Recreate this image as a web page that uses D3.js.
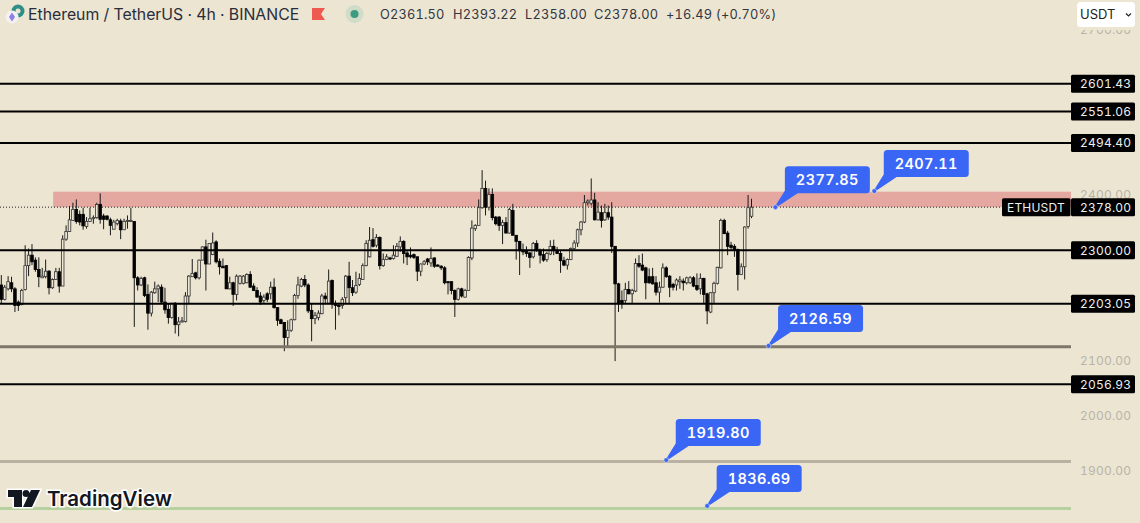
<!DOCTYPE html>
<html>
<head>
<meta charset="utf-8">
<script src="https://cdn.jsdelivr.net/npm/d3@7"></script>
<style>
  body { margin: 0; background: #ece5d2; overflow: hidden; }
  text { font-family: Inter, "Noto Sans", sans-serif; font-variant-numeric: tabular-nums; }
</style>
</head>
<body>
<script>
// ETHUSDT 4h candles
const opens = [
  2237,2211,2230,2241,2230,2206,2202,2229,2272,2291,
  2282,2265,2250,2252,2262,2232,2247,2261,2235,2320,
  2334,2354,2374,2365,2365,2343,2352,2357,2359,2383,
  2362,2362,2355,2338,2348,2353,2337,2352,2352,2352,
  2250,2237,2250,2220,2186,2223,2230,2233,2206,2193,
  2178,2204,2165,2170,2171,2217,2252,2259,2250,2282,
  2306,2275,2292,2315,2280,2271,2272,2230,2241,2220,
  2240,2240,2241,2256,2235,2227,2217,2209,2221,2221,
  2233,2196,2174,2169,2142,2155,2174,2218,2235,2247,
  2237,2191,2176,2178,2185,2217,2204,2245,2204,2200,
  2200,2214,2253,2232,2224,2238,2247,2272,2288,2319,
  2309,2323,2272,2283,2286,2285,2289,2306,2316,2295,
  2291,2292,2288,2262,2275,2284,2277,2286,2273,2271,
  2268,2243,2243,2227,2211,2230,2215,2227,2286,2339,
  2345,2377,2412,2378,2401,2360,2360,2345,2350,2331,
  2372,2327,2316,2300,2299,2295,2288,2312,2300,2292,
  2283,2293,2307,2300,2294,2281,2273,2283,2303,2313,
  2337,2351,2386,2385,2391,2355,2368,2355,2368,2360,
  2307,2239,2209,2209,2229,2221,2226,2276,2273,2268,
  2252,2252,2241,2224,2233,2268,2253,2238,2237,2243,
  2244,2241,2241,2250,2236,2230,2249,2221,2188,2223,
  2240,2268,2354,2331,2309,2307,2301,2256,2270,2343,2361.5
]
const highs = [
  2255,2237,2253,2252,2233,2209,2230,2309,2303,2311,
  2287,2287,2268,2283,2264,2249,2268,2268,2327,2345,
  2380,2386,2392,2372,2377,2360,2377,2363,2386,2403,
  2366,2363,2359,2355,2357,2357,2357,2363,2377,2352,
  2253,2252,2252,2238,2226,2243,2238,2238,2232,2203,
  2204,2206,2179,2179,2224,2255,2284,2261,2283,2307,
  2319,2312,2332,2318,2285,2285,2273,2252,2243,2256,
  2255,2255,2258,2262,2240,2233,2224,2220,2224,2243,
  2249,2197,2176,2170,2173,2176,2221,2252,2250,2255,
  2240,2203,2188,2191,2221,2223,2265,2247,2209,2205,
  2215,2255,2279,2246,2261,2258,2276,2318,2342,2340,
  2329,2325,2294,2293,2288,2309,2313,2325,2318,2300,
  2305,2294,2289,2276,2282,2286,2305,2287,2275,2273,
  2271,2243,2244,2229,2232,2232,2230,2289,2354,2347,
  2392,2445,2426,2412,2412,2362,2362,2355,2360,2377,
  2384,2327,2317,2312,2307,2297,2315,2318,2303,2303,
  2297,2318,2319,2306,2300,2288,2285,2305,2318,2339,
  2353,2400,2392,2430,2404,2387,2381,2384,2381,2387,
  2307,2241,2227,2241,2244,2230,2285,2291,2294,2270,
  2267,2268,2253,2243,2276,2271,2255,2241,2249,2253,
  2249,2252,2253,2253,2258,2258,2250,2223,2224,2243,
  2270,2357,2357,2335,2315,2311,2303,2276,2343,2400,2393.22
]
const lows = [
  2203,2209,2227,2224,2188,2190,2200,2227,2253,2273,
  2261,2233,2250,2249,2220,2230,2246,2223,2235,2317,
  2333,2353,2348,2345,2337,2339,2351,2348,2357,2348,
  2338,2354,2327,2338,2345,2320,2337,2339,2351,2161,
  2227,2235,2215,2156,2180,2221,2206,2204,2185,2167,
  2176,2149,2144,2169,2169,2203,2252,2247,2247,2282,
  2227,2275,2291,2276,2256,2268,2230,2229,2199,2209,
  2238,2238,2240,2232,2226,2214,2201,2203,2206,2211,
  2194,2163,2166,2117,2126,2152,2173,2212,2233,2233,
  2186,2135,2166,2173,2184,2203,2203,2194,2156,2182,
  2194,2203,2203,2217,2221,2235,2246,2271,2287,2305,
  2305,2265,2270,2282,2282,2283,2288,2297,2276,2273,
  2285,2284,2244,2253,2273,2273,2270,2268,2270,2264,
  2238,2220,2220,2179,2209,2214,2214,2227,2282,2335,
  2345,2375,2363,2372,2354,2345,2335,2311,2331,2330,
  2327,2283,2255,2291,2288,2268,2285,2297,2276,2279,
  2279,2291,2291,2293,2259,2271,2265,2282,2301,2306,
  2327,2349,2381,2381,2354,2354,2341,2353,2355,2295,
  2099,2188,2194,2203,2220,2203,2224,2268,2262,2211,
  2239,2238,2218,2205,2232,2250,2215,2227,2227,2230,
  2227,2238,2239,2233,2226,2220,2204,2166,2186,2203,
  2238,2267,2329,2291,2301,2288,2227,2255,2247,2339,2358
]
const closes = [
  2211,2233,2243,2230,2200,2200,2227,2272,2291,2279,
  2265,2252,2253,2262,2232,2247,2261,2235,2320,2334,
  2355,2374,2352,2351,2344,2352,2357,2359,2383,2356,
  2356,2356,2345,2351,2354,2337,2352,2354,2354,2250,
  2237,2249,2218,2186,2224,2230,2235,2206,2192,2178,
  2204,2165,2170,2172,2217,2253,2258,2250,2282,2306,
  2275,2312,2313,2279,2270,2268,2230,2241,2220,2253,
  2253,2253,2256,2233,2227,2215,2206,2215,2211,2233,
  2196,2173,2167,2142,2155,2174,2218,2237,2247,2237,
  2190,2176,2182,2186,2217,2212,2244,2203,2200,2199,
  2211,2253,2232,2223,2236,2249,2272,2312,2318,2307,
  2323,2272,2283,2288,2284,2291,2307,2316,2294,2288,
  2288,2287,2262,2275,2279,2279,2285,2271,2271,2268,
  2241,2241,2227,2211,2230,2217,2227,2287,2340,2345,
  2377,2412,2378,2401,2359,2348,2345,2350,2331,2374,
  2327,2316,2299,2297,2294,2287,2312,2299,2291,2282,
  2294,2307,2299,2294,2281,2273,2283,2303,2313,2337,
  2351,2386,2389,2391,2355,2369,2354,2368,2360,2307,
  2239,2203,2203,2229,2221,2227,2276,2271,2264,2241,
  2241,2239,2224,2233,2268,2252,2233,2233,2246,2246,
  2241,2250,2250,2235,2229,2249,2220,2190,2223,2240,
  2269,2354,2330,2307,2305,2300,2256,2270,2342,2377,2378
]

const blackLevels = [2601.43, 2551.06, 2494.40, 2300.00, 2203.05, 2056.93]
const softLevels = [2125, 1917, 1832]
const softColors = ['#7d776a', '#b9b2a3', '#b7d0a0']
const zone = [2406, 2378]
const lastPrice = 2378

const axisTicks = [2700, 2400, 2100, 2000, 1900]

const calloutBars = [227, 256, 225, 195, 207]
const calloutPrices = [2377.85, 2407.11, 2126.59, 1919.80, 1836.69]

const ohlcLabels = ['O2361.50', 'H2393.22', 'L2358.00', 'C2378.00', '+16.49 (+0.70%)']
const ohlcX = [380, 453, 525, 594, 666]

const w = 1140
const h = 523
const axisLeft = 1071
const bg = '#ece5d2'

const svg = d3.select('body')
  .append('svg')
  .attr('width', w)
  .attr('height', h)
  .style('display', 'block')

const xScale = d3.scaleLinear().domain([0, 220]).range([1.3, 751.5])
const yScale = d3.scaleLinear().domain([2400, 1900]).range([195, 471])

// pink zone
svg.append('rect')
  .attr('x', xScale(15.2))
  .attr('y', yScale(zone[0]))
  .attr('width', axisLeft - xScale(15.2))
  .attr('height', yScale(zone[1]) - yScale(zone[0]))
  .style('fill', '#e5a8a0')

// last price dotted line
svg.append('line')
  .attr('x1', 0)
  .attr('x2', 1002)
  .attr('y1', yScale(lastPrice))
  .attr('y2', yScale(lastPrice))
  .style('stroke', '#222')
  .style('stroke-dasharray', '1 2')

// candles
const candles = svg.append('g')
  .attr('class', 'candles')
  .style('filter', 'blur(0.35px)')

candles.selectAll('g.candle')
  .data(opens.map((o, i) => ({ i, o, h: highs[i], l: lows[i], c: closes[i] })))
  .enter()
  .append('g')
  .attr('class', 'candle')
  .each(function(d) {
    const x = xScale(d.i)
    d3.select(this)
      .append('line')
      .attr('x1', x)
      .attr('x2', x)
      .attr('y1', yScale(d.h))
      .attr('y2', yScale(d.l))
      .style('stroke', '#1a1a1a')
      .style('stroke-width', 1)

    const top = yScale(Math.max(d.o, d.c))
    const bottom = yScale(Math.min(d.o, d.c))
    d3.select(this)
      .append('rect')
      .attr('x', x - 1.3)
      .attr('y', top)
      .attr('width', 2.6)
      .attr('height', Math.max(bottom - top, 1))
      .style('fill', d.c >= d.o ? bg : '#000')
      .style('stroke', d.c >= d.o ? '#333' : '#000')
      .style('stroke-width', 0.8)
  })

// horizontal levels
svg.selectAll('line.level')
  .data(blackLevels)
  .enter()
  .append('line')
  .attr('class', 'level')
  .attr('x1', 0)
  .attr('x2', axisLeft)
  .attr('y1', d => yScale(d))
  .attr('y2', d => yScale(d))
  .style('stroke', '#000')
  .style('stroke-width', 2)

svg.selectAll('line.soft')
  .data(softLevels)
  .enter()
  .append('line')
  .attr('class', 'soft')
  .attr('x1', 0)
  .attr('x2', axisLeft)
  .attr('y1', d => yScale(d))
  .attr('y2', d => yScale(d))
  .style('stroke', (d, i) => softColors[i])
  .style('stroke-width', 3)

// price axis
const yAxis = d3.axisRight()
  .scale(yScale)
  .tickValues(axisTicks)
  .tickSize(0)
  .tickPadding(9)
  .tickFormat(d3.format('.2f'))

const axisG = svg.append('g')
  .attr('id', 'yAxisG')
  .attr('transform', `translate(${axisLeft},0)`)
  .call(yAxis)
axisG.select('.domain').remove()
axisG.selectAll('text')
  .style('font-family', 'Inter, sans-serif')
  .style('font-size', '12px')
  .style('letter-spacing', '0.2px')
  .style('fill', '#b9b4a8')

// black price tags on the axis
function priceTag(x, width, price, label) {
  svg.append('rect')
    .attr('x', x)
    .attr('y', yScale(price) - 9)
    .attr('width', width)
    .attr('height', 18)
    .attr('rx', 1.5)
    .style('fill', '#000')
  svg.append('text')
    .attr('x', x + 9)
    .attr('y', yScale(price) + 4.5)
    .style('font-size', '12px')
    .style('letter-spacing', '0.2px')
    .style('fill', '#eee')
    .text(label)
}

blackLevels.forEach(d => priceTag(axisLeft, 64, d, d.toFixed(2)))
priceTag(axisLeft, 64, lastPrice, lastPrice.toFixed(2))
svg.append('rect')
  .attr('x', 1002)
  .attr('y', yScale(lastPrice) - 9)
  .attr('width', 68.5)
  .attr('height', 18)
  .attr('rx', 1.5)
  .style('fill', '#000')
svg.append('text')
  .attr('x', 1007)
  .attr('y', yScale(lastPrice) + 4.5)
  .style('font-size', '12px')
  .style('letter-spacing', '0.2px')
  .style('fill', '#eee')
  .text('ETHUSDT')

// blue callouts
const callouts = svg.selectAll('g.callout')
  .data(calloutPrices)
  .enter()
  .append('g')
  .attr('class', 'callout')
  .attr('transform', (d, i) => `translate(${xScale(calloutBars[i])},${yScale(d)})`)

callouts.append('path')
  .attr('d', 'M0,0L10,-16L24,-16Z')
  .style('fill', '#3a66f6')
  .style('stroke', '#3a66f6')
  .style('stroke-width', 1.5)
callouts.append('rect')
  .attr('x', 9.5)
  .attr('y', -41)
  .attr('width', 85)
  .attr('height', 27)
  .attr('rx', 3.5)
  .style('fill', '#3a66f6')
callouts.append('text')
  .attr('x', 52)
  .attr('y', -22)
  .attr('text-anchor', 'middle')
  .style('font-size', '14.5px')
  .style('font-weight', 600)
  .style('letter-spacing', '0.4px')
  .style('fill', '#fff')
  .text(d => d.toFixed(2))
callouts.append('circle')
  .attr('r', 2.4)
  .style('fill', '#3a66f6')
  .style('stroke', '#dfe3ea')
  .style('stroke-width', 0.6)

// header
const header = svg.append('g').attr('class', 'header')
header.append('circle').attr('cx', 18).attr('cy', 11).attr('r', 6.5).style('fill', '#2f8f86')
header.append('circle').attr('cx', 18).attr('cy', 11).attr('r', 2.5).style('fill', '#ece5d2')
header.append('circle').attr('cx', 12).attr('cy', 17).attr('r', 6.5).style('fill', '#f3f1f4')
header.append('path').attr('d', 'M12,12.5L15,17L12,21.5L9,17Z').style('fill', '#8d80e0')
header.append('text')
  .attr('x', 28)
  .attr('y', 20)
  .style('font-size', '15.8px')
  .style('fill', '#2a2e39')
  .text('Ethereum / TetherUS · 4h · BINANCE')
header.append('path')
  .attr('d', 'M312,8H325L321,14L325,20H312Z')
  .style('fill', '#ef5a50')
header.append('circle').attr('cx', 354.5).attr('cy', 14).attr('r', 9).style('fill', '#d0dcc8')
header.append('circle').attr('cx', 354.5).attr('cy', 14).attr('r', 4).style('fill', '#3b9a80')

header.selectAll('text.ohlc')
  .data(ohlcLabels)
  .enter()
  .append('text')
  .attr('class', 'ohlc')
  .attr('x', (d, i) => ohlcX[i])
  .attr('y', 19)
  .style('font-size', '12.8px')
  .style('letter-spacing', '0.2px')
  .style('fill', '#33363f')
  .text(d => d)

// currency box, it fades the top tick out behind it
svg.append('rect')
  .attr('x', axisLeft)
  .attr('y', 0)
  .attr('width', w - axisLeft)
  .attr('height', 30)
  .style('fill', bg)
svg.append('rect')
  .attr('x', 1077)
  .attr('y', 2)
  .attr('width', 58)
  .attr('height', 25)
  .attr('rx', 3.5)
  .style('fill', '#fff')
svg.append('text')
  .attr('x', 1080)
  .attr('y', 19)
  .style('font-size', '13px')
  .style('fill', '#222')
  .text('USDT')
svg.append('path')
  .attr('d', 'M1126,13.5L1128.5,16L1131,13.5')
  .style('fill', 'none')
  .style('stroke', '#222')
  .style('stroke-width', 1.2)

// watermark
const logo = svg.append('g').attr('class', 'logo')
const logoPath = 'M8,490H22V507H14V497H8ZM26,490A3.5,3.5 0 1 1 26,497A3.5,3.5 0 1 1 26,490ZM31,490H40L32,507H23Z'
logo.append('path')
  .attr('d', logoPath)
  .style('fill', '#131722')
  .style('stroke', '#fff')
  .style('stroke-width', 3)
  .style('paint-order', 'stroke')
logo.append('text')
  .attr('x', 47)
  .attr('y', 506)
  .style('font-size', '20.5px')
  .style('font-weight', 600)
  .style('fill', '#131722')
  .style('stroke', '#fff')
  .style('stroke-width', 3)
  .style('paint-order', 'stroke')
  .text('TradingView')
</script>
</body>
</html>
